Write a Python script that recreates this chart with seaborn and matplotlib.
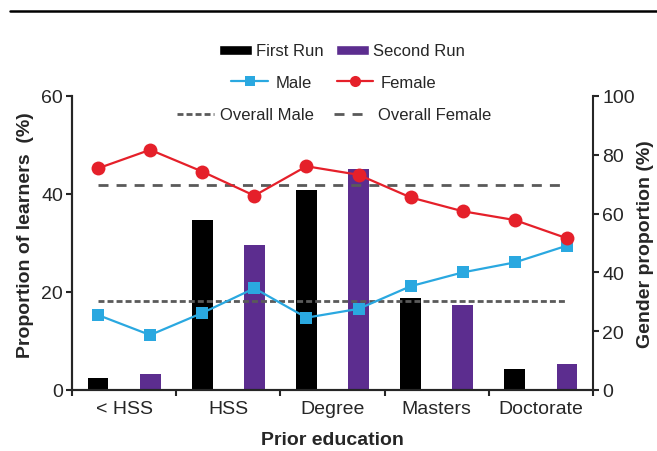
import numpy as np
import pandas as pd
import matplotlib
matplotlib.use("Agg")
import matplotlib.pyplot as plt
from matplotlib.lines import Line2D
from matplotlib.patches import Patch
import seaborn as sns

# ---- data -------------------------------------------------------------
categories = ["< HSS", "HSS", "Degree", "Masters", "Doctorate"]
runs = ["First Run", "Second Run"]
first_run = [2.5, 34.6, 40.9, 18.8, 4.3]      # % of learners, first run
second_run = [3.3, 29.6, 45.2, 17.4, 5.4]     # % of learners, second run
# gender share (%) for each category, first run then second run
male = [25.5, 18.7, 26.2, 34.6, 24.6, 27.6, 35.3, 40.0, 43.4, 49.1]
female = [75.4, 81.7, 74.3, 66.1, 76.1, 73.2, 65.5, 60.8, 57.8, 51.6]
overall_male = 30.3
overall_female = 69.7

left_ticks = [0, 20, 40, 60]
right_ticks = [0, 20, 40, 60, 80, 100]

# ---- style ------------------------------------------------------------
sns.set_style("ticks")
plt.rcParams["font.family"] = ["Liberation Sans", "DejaVu Sans"]
plt.rcParams["lines.scale_dashes"] = False

BLACK = "#000000"
PURPLE = "#5c2d8f"
BLUE = "#2aa8e0"
RED = "#e5202a"
GREY = "#5a5a5a"
male_dash = (0, (4.3, 2.2))
female_dash = (0, (7.2, 5.8))

fig = plt.figure(figsize=(6.57, 4.52), dpi=100)
ax = fig.add_axes([72 / 657, 1 - 391 / 452, 521 / 657, 294 / 452])
ax2 = ax.twinx()

# ---- bars (left axis) -------------------------------------------------
n_slots = 2 * len(categories)
slots = np.arange(n_slots)
bars = pd.DataFrame({
    "slot": slots,
    "value": np.column_stack([first_run, second_run]).ravel(),
    "run": runs * len(categories),
})
sns.barplot(data=bars, x="slot", y="value", hue="run", hue_order=runs,
            palette=[BLACK, PURPLE], dodge=False, native_scale=True,
            width=0.4, saturation=1, linewidth=0, legend=False, ax=ax)

# ---- gender lines (right axis) ----------------------------------------
ax2.hlines(overall_male, slots[0], slots[-1], color=GREY, lw=2.0,
           linestyles=[male_dash], zorder=1)
ax2.hlines(overall_female, slots[0], slots[-1], color=GREY, lw=2.0,
           linestyles=[female_dash], zorder=1)
sns.lineplot(x=slots, y=male, ax=ax2, color=BLUE, marker="s", markersize=9,
             markeredgewidth=0, linewidth=1.6, zorder=3)
sns.lineplot(x=slots, y=female, ax=ax2, color=RED, marker="o", markersize=10,
             markeredgewidth=0, linewidth=1.6, zorder=4)

# ---- axes -------------------------------------------------------------
for a in (ax, ax2):
    a.set_xlim(-0.5, n_slots - 0.5)
    a.spines["top"].set_visible(False)
    for s in ("left", "right", "bottom"):
        a.spines[s].set_linewidth(1.5)
ax.spines["right"].set_visible(False)

ax.set_ylim(0, 60)
ax.set_yticks(left_ticks)
ax2.set_ylim(0, 100)
ax2.set_yticks(right_ticks)

bounds = np.arange(-0.5, n_slots, 2)
centers = np.arange(0.5, n_slots, 2)
ax.set_xticks(bounds)
ax.set_xticklabels([])
ax.set_xticks(centers, minor=True)
ax.set_xticklabels(categories, minor=True)
ax.tick_params(axis="x", which="minor", length=0, pad=7, labelsize=14)
ax.tick_params(axis="x", which="major", length=4.5, width=1.5, direction="out")
ax.tick_params(axis="y", length=4.5, width=1.5, pad=2, labelsize=14)
ax2.tick_params(axis="y", length=4.5, width=1.5, pad=2, labelsize=14)

ax.set_xlabel("Prior education", fontsize=14, fontweight="bold")
ax.set_ylabel("Proportion of learners  (%)", fontsize=14, fontweight="bold")
ax2.set_ylabel("Gender proportion (%)", fontsize=14, fontweight="bold",
               rotation=90)
ax.xaxis.label.set_va("center")
ax.xaxis.set_label_coords(0.5, -0.167)
ax.yaxis.set_label_coords(-0.090, 0.53)
ax2.yaxis.set_label_coords(1.10, 0.5)
ax2.yaxis.label.set_va("center")
ax.yaxis.label.set_va("center")

# ---- legend rows --------------------------------------------------------
leg_kw = dict(frameon=False, fontsize=12, ncol=2, loc="center",
              borderpad=0, borderaxespad=0)
fig.legend(handles=[Patch(facecolor=BLACK, label="First Run"),
                    Patch(facecolor=PURPLE, label="Second Run")],
           bbox_to_anchor=(342 / 657, 1 - 52 / 452), handlelength=2.0,
           handleheight=0.55, handletextpad=0.25, columnspacing=0.7, **leg_kw)
fig.legend(handles=[Line2D([], [], color=BLUE, lw=1.6, marker="s", ms=7,
                           mew=0, label="Male"),
                    Line2D([], [], color=RED, lw=1.6, marker="o", ms=8,
                           mew=0, label="Female")],
           bbox_to_anchor=(334 / 657, 1 - 83 / 452), handlelength=2.2,
           handletextpad=0.45, columnspacing=1.5, **leg_kw)
fig.legend(handles=[Line2D([], [], color=GREY, lw=2.0, linestyle=male_dash,
                           label="Overall Male"),
                    Line2D([], [], color=GREY, lw=2.0,
                           linestyle=(0, (7.2, 5.8, 7.2, 30)),
                           label="Overall Female")],
           bbox_to_anchor=(334 / 657, 1 - 116 / 452), handlelength=2.2,
           handletextpad=0.4, columnspacing=1.2, **leg_kw)

# rule across the top of the figure
fig.add_artist(Line2D([10 / 657, 1.0], [1 - 12 / 452, 1 - 12 / 452],
                      color="black", lw=1.8, transform=fig.transFigure))

fig.savefig("out.png", dpi=100)
